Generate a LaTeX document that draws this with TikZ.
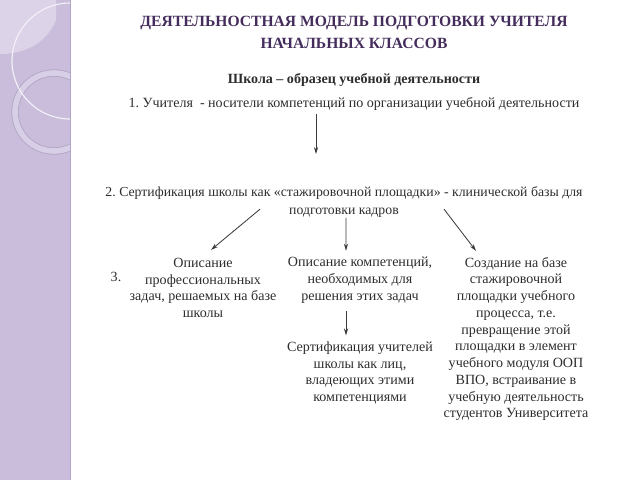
\documentclass[tikz,border=0pt]{standalone}
\usepackage{fontspec}
\setmainfont{Liberation Serif}
\frenchspacing
\usetikzlibrary{arrows.meta,calc}
\definecolor{panel}{RGB}{201,189,219}
\definecolor{panellight}{RGB}{220,211,233}
\definecolor{paneledge}{RGB}{178,165,198}
\definecolor{ringcol}{RGB}{215,207,229}
\definecolor{titlecol}{RGB}{68,45,92}
\definecolor{textgrey}{RGB}{45,45,45}
\definecolor{linegrey}{RGB}{60,60,60}
\tikzstyle{heading} = [text=titlecol, align=center, inner sep=0pt,
    font=\bfseries\fontsize{11.1}{15}\selectfont]
\tikzstyle{block} = [text=textgrey, align=center, inner sep=0pt,
    font=\fontsize{10}{11.9}\selectfont]
\tikzstyle{line} = [draw=linegrey, line width=0.6pt, -{Stealth[length=5pt,width=3pt]}]

\begin{document}
\begin{tikzpicture}[node distance=2cm]
    \useasboundingbox (0,0) rectangle (16,-12);
    % Side panel
    \fill[panel] (0,0) rectangle (1.75,-12);
    \begin{scope}
        \clip (0,0) rectangle (1.75,-12);
        \fill[panellight] (0,0) -- (1.4,0) -- (1.4,-0.5) .. controls (1.15,-1.1) and (0.6,-1.35) .. (0,-1.35) -- cycle;
        \draw[paneledge, line width=5.2pt] (1.35,-2.8) circle (0.975);
        \draw[ringcol, line width=4pt] (1.35,-2.8) circle (0.975);
        \draw[white!80!panel, line width=0.8pt] (1.75,-1.525) circle (1.45);
    \end{scope}
    \draw[paneledge, line width=0.6pt] (1.75,0) -- (1.75,-12);

    % Place nodes
    \node[heading] (title) at (8.85,-0.81) {ДЕЯТЕЛЬНОСТНАЯ МОДЕЛЬ ПОДГОТОВКИ УЧИТЕЛЯ\\НАЧАЛЬНЫХ КЛАССОВ};
    \node[block,font=\bfseries\fontsize{10}{11.9}\selectfont,below of=title,node distance=1.19cm] (school) {Школа – образец учебной деятельности};
    \node[block,below of=school,node distance=0.6cm] (teachers) {1. Учителя~ - носители компетенций по организации учебной деятельности};
    \node[block,below of=teachers,node distance=2.45cm,xshift=-0.25cm,font=\fontsize{9.8}{13.2}\selectfont] (cert) {2. Сертификация школы как «стажировочной площадки» - клинической базы для\\подготовки кадров};

    \node[block,below of=cert,node distance=1.95cm,xshift=0.4cm] (competences) {Описание компетенций,\\необходимых для\\решения этих задач};
    \node[block,left of=competences,node distance=3.925cm,yshift=-0.2cm] (tasks) {Описание\\профессиональных\\задач, решаемых на базе\\школы};
    \node[block,right of=competences,node distance=3.9cm,yshift=-1.475cm] (creation) {Создание на базе\\стажировочной\\площадки учебного\\процесса, т.е.\\превращение этой\\площадки в элемент\\учебного модуля ООП\\ВПО, встраивание в\\учебную деятельность\\студентов Университета};
    \node[block,below of=competences,node distance=2.325cm] (teachercert) {Сертификация учителей\\школы как лиц,\\владеющих этими\\компетенциями};
    \node[block,left of=tasks,node distance=2.175cm,yshift=0.275cm] (three) {3.};

    % Draw edges
    \path [line,shorten >=0.8cm,shorten <=0.08cm] ([xshift=-0.95cm]teachers.south) -- ([xshift=-0.95cm]teachers.south |- cert.north);
    \path [line] ([xshift=-2.1cm,yshift=0.22cm]cert.south) -- ([xshift=0.2cm,yshift=0.2cm]tasks.north);
    \path [line] ([xshift=0.05cm]cert.south) -- ([xshift=-0.35cm,yshift=0.15cm]competences.north);
    \path [line] ([xshift=2.5cm,yshift=0.22cm]cert.south) -- ([xshift=-1.0cm,yshift=0.15cm]creation.north);
    \path [line] ([xshift=-0.35cm,yshift=-0.2cm]competences.south) -- ([xshift=-0.35cm,yshift=0.15cm]teachercert.north);
\end{tikzpicture}
\end{document}
